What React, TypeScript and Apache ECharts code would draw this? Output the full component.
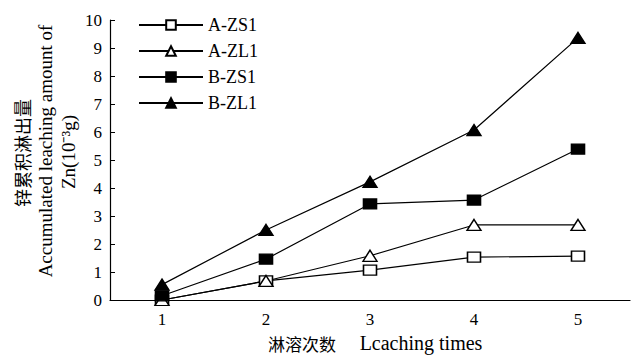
import React, { useEffect, useRef } from "react";
import * as echarts from "echarts";

const categories = ["1", "2", "3", "4", "5"];
const seriesNames = ["A-ZS1", "A-ZL1", "B-ZS1", "B-ZL1"];
const aZS1 = [0, 0.68, 1.07, 1.53, 1.57];
const aZL1 = [0, 0.68, 1.58, 2.68, 2.68];
const bZS1 = [0.15, 1.46, 3.43, 3.57, 5.39];
const bZL1 = [0.55, 2.5, 4.22, 6.07, 9.36];
const yTitleLines = ["锌累积淋出量", "Accumulated leaching amount of", "Zn(10⁻³g)"];
const xTitleCn = "淋溶次数";
const xTitleEn = "Lcaching times";

const SERIF = "Liberation Serif";
const CJK = "Noto Sans CJK SC";

export default function App() {
  const ref = useRef<HTMLDivElement>(null);
  useEffect(() => {
    if (!ref.current) return;
    const chart = echarts.init(ref.current, null, { renderer: "svg" });
    const mk = (name: string, data: number[], symbol: string, size: any, filled: boolean) => ({
      name,
      type: "line",
      data,
      symbol,
      symbolSize: size,
      showAllSymbol: true,
      lineStyle: { color: "#000", width: 1.2 },
      itemStyle: { color: filled ? "#000" : "#fff", borderColor: "#000", borderWidth: 1.4 },
      z: 3,
    });
    const txt = (x: number, y: number, text: string, size: number, rot: number, fam: string) => ({
      type: "text",
      x,
      y,
      rotation: rot,
      style: {
        text,
        fontFamily: fam,
        fontSize: size,
        lineHeight: size,
        fill: "#000",
        align: "center",
        verticalAlign: "middle",
      },
    });
    chart.setOption({
      animation: false,
      backgroundColor: "#fff",
      textStyle: { fontFamily: SERIF },
      grid: { left: 110, right: 12, top: 20, bottom: 55 },
      legend: {
        left: 133,
        top: 11,
        orient: "vertical",
        itemWidth: 64,
        itemHeight: 12,
        itemGap: 8,
        data: seriesNames,
        textStyle: { fontFamily: SERIF, fontSize: 18, color: "#000" },
      },
      xAxis: {
        type: "category",
        data: categories,
        boundaryGap: true,
        axisLine: { lineStyle: { color: "#000", width: 1.2 } },
        axisTick: { inside: true, length: 4, alignWithLabel: false, lineStyle: { color: "#000" } },
        axisLabel: { fontFamily: SERIF, fontSize: 17, lineHeight: 17, color: "#000", margin: 11 },
      },
      yAxis: {
        type: "value",
        min: 0,
        max: 10,
        interval: 1,
        splitLine: { show: false },
        axisLine: { show: true, lineStyle: { color: "#000", width: 1.2 } },
        axisTick: { show: true, inside: true, length: 5, lineStyle: { color: "#000" } },
        axisLabel: { fontFamily: SERIF, fontSize: 17, color: "#000", margin: 8 },
      },
      graphic: [
        txt(22, 153, yTitleLines[0], 18, Math.PI / 2, CJK),
        txt(45, 151, yTitleLines[1], 19, Math.PI / 2, SERIF),
        txt(68, 152, yTitleLines[2], 19, Math.PI / 2, SERIF),
        txt(302, 343, xTitleCn, 17, 0, CJK),
        txt(421, 343, xTitleEn, 20, 0, SERIF),
      ],
      series: [
        mk(seriesNames[0], aZS1, "rect", [13, 10], false),
        mk(seriesNames[1], aZL1, "triangle", [14, 11], false),
        mk(seriesNames[2], bZS1, "rect", [13, 10], true),
        mk(seriesNames[3], bZL1, "triangle", [14, 11], true),
      ],
    });
    return () => chart.dispose();
  }, []);
  return <div ref={ref} style={{ position: "fixed", left: 0, top: 0, width: 642, height: 355 }} />;
}
